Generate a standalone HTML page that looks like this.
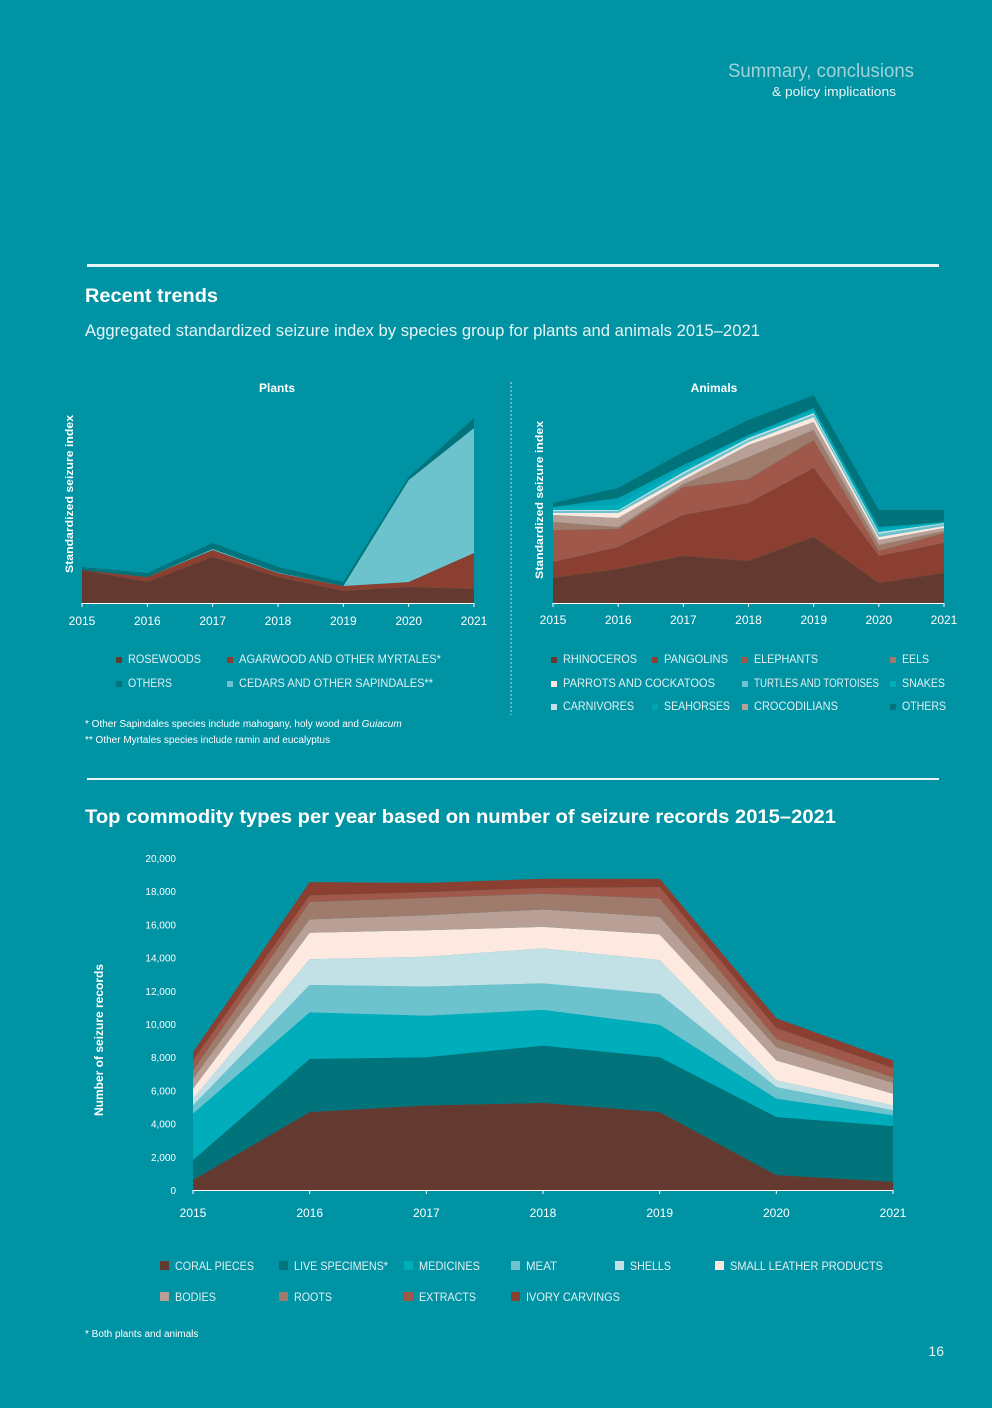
<!DOCTYPE html>
<html><head><meta charset="utf-8"><style>
html,body{margin:0;padding:0}
body{width:992px;height:1403px;background:#0093a4;font-family:"Liberation Sans",sans-serif;overflow:hidden}
svg text{font-family:"Liberation Sans",sans-serif}
</style></head><body>
<svg id="pg" width="992" height="1403" xmlns="http://www.w3.org/2000/svg">
<text x="914" y="77" text-anchor="end" font-size="19" fill="#9fd3da" textLength="186" lengthAdjust="spacingAndGlyphs">Summary, conclusions</text>
<text x="896" y="96" text-anchor="end" font-size="13" fill="#e6f4f6" textLength="124" lengthAdjust="spacingAndGlyphs">&amp; policy implications</text>
<rect x="87" y="264" width="852" height="3" fill="#e6f4f6"/>
<text x="85" y="302" font-size="19" font-weight="bold" fill="#ffffff" textLength="133" lengthAdjust="spacingAndGlyphs">Recent trends</text>
<text x="85" y="336" font-size="17" fill="#e6f4f6" textLength="675" lengthAdjust="spacingAndGlyphs">Aggregated standardized seizure index by species group for plants and animals 2015–2021</text>
<text x="277" y="392" text-anchor="middle" font-size="12" font-weight="bold" fill="#fff">Plants</text>
<text x="714" y="392" text-anchor="middle" font-size="12" font-weight="bold" fill="#fff">Animals</text>
<text transform="translate(73,494) rotate(-90)" text-anchor="middle" font-size="11" font-weight="bold" fill="#fff" textLength="158" lengthAdjust="spacingAndGlyphs">Standardized seizure index</text>
<text transform="translate(543,500) rotate(-90)" text-anchor="middle" font-size="11" font-weight="bold" fill="#fff" textLength="158" lengthAdjust="spacingAndGlyphs">Standardized seizure index</text>
<line x1="511" y1="382" x2="511" y2="715" stroke="#cde" stroke-dasharray="2,2"/>
<g id="plants"></g>
<g id="animals"></g>
<g id="plantsLegend"></g>
<g id="animalsLegend"></g>
<text x="85" y="727" font-size="10" fill="#fff">* Other Sapindales species include mahogany, holy wood and <tspan font-style="italic">Guiacum</tspan></text>
<text x="85" y="743" font-size="10" fill="#fff">** Other Myrtales species include ramin and eucalyptus</text>
<rect x="87" y="778" width="852" height="2" fill="#e6f4f6"/>
<text x="85" y="823" font-size="19" font-weight="bold" fill="#fff" textLength="751" lengthAdjust="spacingAndGlyphs">Top commodity types per year based on number of seizure records 2015–2021</text>
<text transform="translate(103,1040) rotate(-90)" text-anchor="middle" font-size="12" font-weight="bold" fill="#fff">Number of seizure records</text>
<g id="comm"></g>
<g id="commLegend"></g>
<text x="85" y="1337" font-size="10" fill="#fff">* Both plants and animals</text>
<text x="944" y="1356" text-anchor="end" font-size="14" fill="#e6f4f6">16</text>
</svg>
<script>
const years = ["2015","2016","2017","2018","2019","2020","2021"];
// Plants (index units)
const plantSeries = ["ROSEWOODS","AGARWOOD AND OTHER MYRTALES*","CEDARS AND OTHER SAPINDALES**","OTHERS"];
const rosewoods = [33,21,46,26,12,16,14];
const agarwood = [0,5,7,4,5,5,36];
const cedars = [0,0,1,0.5,0,102,125];
const plantOthers = [3,4,6,5.5,4,3,10];
// Animals (index units)
const rhinoceros = [25,34,47,42,66,20,30];
const pangolins = [16,22,41,58,69,27,30];
const elephants = [32,18,28,24,28,5,10];
const eels = [8,2,3,22,10,6,2];
const crocodilians = [7,9,4,12,8,5,3];
const parrots = [2,5,3,3,5,3,2];
const turtles = [2,2,3,2,2,3,2];
const carnivores = [1,1,2,2,2,2,1];
const snakes = [2,6,4,2,3,3,1];
const seahorses = [1,6,3,1,2,2,0];
const animalOthers = [4,10,13,15,13,17,12];
// Commodities (seizure records)
const coral = [600,4700,5100,5250,4700,900,500];
const live = [1200,3200,2900,3450,3300,3500,3350];
const medicines = [2800,2800,2500,2150,1950,1100,650];
const meat = [500,1650,1750,1600,1850,700,300];
const shells = [400,1550,1800,2100,2050,400,300];
const leather = [600,1600,1600,1300,1550,1200,700];
const bodies = [600,800,900,1050,1050,800,650];
const roots = [500,1050,1050,950,1100,500,350];
const extracts = [600,400,350,350,700,650,550];
const ivory = [500,800,550,550,500,600,450];
const commTicks = [0,2000,4000,6000,8000,10000,12000,14000,16000,18000,20000];

const NS="http://www.w3.org/2000/svg";
function mk(tag,attrs,parent){const e=document.createElementNS(NS,tag);for(const k in attrs)e.setAttribute(k,attrs[k]);parent.appendChild(e);return e;}

function stack(g,series,x,y,name){
  const n=years.length;let base=new Array(n).fill(0);
  series.forEach(s=>{
    const top=base.map((b,i)=>b+s.v[i]);
    let d="M"+years.map((_,i)=>x(i)+","+y(top[i])).join("L");
    for(let i=n-1;i>=0;i--)d+="L"+x(i)+","+y(base[i]);
    const p=mk("path",{d:d+"Z",fill:s.c},g);
    
    
    base=top;
  });
}
function xaxis(g,x,y0,ty,name){
  const l=mk("line",{x1:x(0),x2:x(6),y1:y0+0.5,y2:y0+0.5,stroke:"#fff"},g);
  
  
  years.forEach((yr,i)=>{
    mk("line",{x1:x(i),x2:x(i),y1:y0,y2:y0+4,stroke:"#fff"},g);
    const t=mk("text",{x:x(i),y:ty,"text-anchor":"middle","font-size":12,fill:"#fff"},g);
    t.textContent=yr;
    
    
  });
}
// Plants
{const g=document.getElementById("plants");
 const x=i=>82+i*(474-82)/6, y=v=>603-v;
 stack(g,[{v:rosewoods,c:"#643a30",n:"rosewoods"},{v:agarwood,c:"#8b3f30",n:"agarwood"},{v:cedars,c:"#6cc3cd",n:"cedars"},{v:plantOthers,c:"#01737a",n:"others"}],x,y,"plants");
 xaxis(g,x,603,625,"plants");}
// Animals
{const g=document.getElementById("animals");
 const x=i=>553+i*(944-553)/6, y=v=>603-v;
 stack(g,[{v:rhinoceros,c:"#643a30",n:"rhinoceros"},{v:pangolins,c:"#8b3f30",n:"pangolins"},{v:elephants,c:"#a0584a",n:"elephants"},{v:eels,c:"#9f7b6c",n:"eels"},{v:crocodilians,c:"#b9a097",n:"crocodilians"},{v:parrots,c:"#fde9df",n:"parrots"},{v:turtles,c:"#6cc3cd",n:"turtles"},{v:carnivores,c:"#c2e1e6",n:"carnivores"},{v:snakes,c:"#00adbb",n:"snakes"},{v:seahorses,c:"#00a3b3",n:"seahorses"},{v:animalOthers,c:"#01737a",n:"others"}],x,y,"animals");
 xaxis(g,x,603,624,"animals");}
// Commodities
{const g=document.getElementById("comm");
 const x=i=>193+i*(893-193)/6, y=v=>1190-v*(1190-858)/20000;
 commTicks.forEach(t=>{const e=mk("text",{x:176,y:y(t)+4,"text-anchor":"end","font-size":10,fill:"#fff"},g);
   e.textContent=t.toLocaleString("en-US");
   
   });
 stack(g,[{v:coral,c:"#643a30",n:"coral"},{v:live,c:"#01737a",n:"live"},{v:medicines,c:"#00adbb",n:"medicines"},{v:meat,c:"#6cc3cd",n:"meat"},{v:shells,c:"#c2e1e6",n:"shells"},{v:leather,c:"#fde9df",n:"leather"},{v:bodies,c:"#b9a097",n:"bodies"},{v:roots,c:"#9f7b6c",n:"roots"},{v:extracts,c:"#a0584a",n:"extracts"},{v:ivory,c:"#8b3f30",n:"ivory"}],x,y,"commodity");
 xaxis(g,x,1190,1217,"commodity");}
// Legends: [x, y, label, colour, textLength]
function legend(gid,items,fs,sq){
  const g=document.getElementById(gid);
  items.forEach(it=>{
    const r=mk("rect",{x:it[0],y:it[1]-sq+1,width:sq,height:sq,fill:it[3]},g);
    
    
    const t=mk("text",{x:it[0]+sq+6,y:it[1]+1,"font-size":fs,fill:"#dff1f3",textLength:it[4],lengthAdjust:"spacingAndGlyphs"},g);
    t.textContent=it[2];
    
    
  });
}
legend("plantsLegend",[[116,662,plantSeries[0],"#643a30",73],[227,662,plantSeries[1],"#8b3f30",202],[116,686,plantSeries[3],"#01737a",44],[227,686,plantSeries[2],"#6cc3cd",194]],12,6);
legend("animalsLegend",[[551,662,"RHINOCEROS","#643a30",74],[652,662,"PANGOLINS","#8b3f30",64],[742,662,"ELEPHANTS","#a0584a",64],[890,662,"EELS","#9f7b6c",27],
 [551,686,"PARROTS AND COCKATOOS","#fde9df",152],[742,686,"TURTLES AND TORTOISES","#6cc3cd",125],[890,686,"SNAKES","#00adbb",43],
 [551,709,"CARNIVORES","#c2e1e6",71],[652,709,"SEAHORSES","#00a3b3",66],[742,709,"CROCODILIANS","#b9a097",84],[890,709,"OTHERS","#01737a",44]],12,6);
legend("commLegend",[[160,1269,"CORAL PIECES","#643a30",79],[279,1269,"LIVE SPECIMENS*","#01737a",94],[404,1269,"MEDICINES","#00adbb",61],[511,1269,"MEAT","#6cc3cd",31],[615,1269,"SHELLS","#c2e1e6",41],[715,1269,"SMALL LEATHER PRODUCTS","#fde9df",153],
 [160,1300,"BODIES","#b9a097",41],[279,1300,"ROOTS","#9f7b6c",38],[404,1300,"EXTRACTS","#a0584a",57],[511,1300,"IVORY CARVINGS","#8b3f30",94]],12,9);
</script>
</body></html>
